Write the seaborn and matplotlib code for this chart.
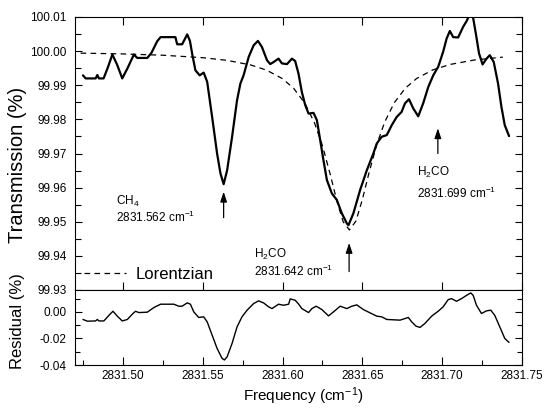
import matplotlib
matplotlib.use("Agg")
import matplotlib.pyplot as plt
from matplotlib.ticker import MultipleLocator, FormatStrFormatter
import pandas as pd
import seaborn as sns

# Measured transmission spectrum (cm^-1, %)
freq_t = [2831.4750, 2831.4767, 2831.4829, 2831.4840, 2831.4850, 2831.4879, 2831.4904,
          2831.4934, 2831.4964, 2831.4996, 2831.5029, 2831.5069, 2831.5090, 2831.5153,
          2831.5179, 2831.5215, 2831.5236, 2831.5329, 2831.5340, 2831.5371, 2831.5403,
          2831.5420, 2831.5434, 2831.5454, 2831.5481, 2831.5506, 2831.5528, 2831.5559,
          2831.5590, 2831.5611, 2831.5631, 2831.5653, 2831.5684, 2831.5715, 2831.5736,
          2831.5756, 2831.5788, 2831.5819, 2831.5846, 2831.5871, 2831.5903, 2831.5923,
          2831.5944, 2831.5975, 2831.5996, 2831.6028, 2831.6059, 2831.6079, 2831.6100,
          2831.6121, 2831.6142, 2831.6163, 2831.6194, 2831.6215, 2831.6236, 2831.6256,
          2831.6278, 2831.6309, 2831.6340, 2831.6371, 2831.6403, 2831.6413, 2831.6444,
          2831.6486, 2831.6528, 2831.6569, 2831.6590, 2831.6621, 2831.6653, 2831.6684,
          2831.6715, 2831.6746, 2831.6767, 2831.6792, 2831.6819, 2831.6850, 2831.6881,
          2831.6913, 2831.6944, 2831.6975, 2831.7006, 2831.7028, 2831.7048, 2831.7069,
          2831.7100, 2831.7131, 2831.7153, 2831.7173, 2831.7190, 2831.7211, 2831.7231,
          2831.7253, 2831.7278, 2831.7298, 2831.7323, 2831.7350, 2831.7371, 2831.7392,
          2831.7419]
trans = [99.9929, 99.9920, 99.9920, 99.9930, 99.9920, 99.9920, 99.9950,
         99.9990, 99.9960, 99.9920, 99.9950, 99.9990, 99.9980, 99.9980,
         99.9995, 100.0029, 100.0041, 100.0041, 100.0020, 100.0020, 100.0049,
         100.0030, 99.9992, 99.9944, 99.9929, 99.9937, 99.9910, 99.9807,
         99.9700, 99.9642, 99.9610, 99.9651, 99.9749, 99.9856, 99.9905,
         99.9929, 99.9983, 100.0017, 100.0030, 100.0012, 99.9973, 99.9962,
         99.9968, 99.9978, 99.9964, 99.9962, 99.9978, 99.9971, 99.9934,
         99.9880, 99.9842, 99.9817, 99.9819, 99.9798, 99.9739, 99.9681,
         99.9622, 99.9583, 99.9564, 99.9525, 99.9495, 99.9490, 99.9525,
         99.9593, 99.9651, 99.9700, 99.9729, 99.9749, 99.9754, 99.9783,
         99.9807, 99.9822, 99.9847, 99.9859, 99.9832, 99.9809, 99.9847,
         99.9895, 99.9929, 99.9954, 99.9998, 100.0037, 100.0059, 100.0041,
         100.0040, 100.0071, 100.0088, 100.0108, 100.0108, 100.0051, 99.9993,
         99.9961, 99.9978, 99.9988, 99.9968, 99.9905, 99.9837, 99.9783,
         99.9751]

# Lorentzian profile fitted to the 2831.642 cm^-1 line
freq_l = [2831.4735, 2831.5000, 2831.5250, 2831.5500, 2831.5650, 2831.5800, 2831.5900,
          2831.6000, 2831.6070, 2831.6140, 2831.6200, 2831.6250, 2831.6300, 2831.6340,
          2831.6380, 2831.6419, 2831.6460, 2831.6500, 2831.6540, 2831.6590, 2831.6640,
          2831.6700, 2831.6770, 2831.6840, 2831.6940, 2831.7050, 2831.7200, 2831.7380]
lorentz = [99.99941, 99.99918, 99.99880, 99.99808, 99.99731, 99.99596, 99.99443,
           99.99191, 99.98908, 99.98472, 99.97901, 99.97230, 99.96366, 99.95614,
           99.94997, 99.94760, 99.95021, 99.95650, 99.96403, 99.97260, 99.97924,
           99.98488, 99.98918, 99.99198, 99.99447, 99.99610, 99.99739, 99.99824]

# Fit residual (%)
freq_r = [2831.4750, 2831.4778, 2831.4829, 2831.4840, 2831.4850, 2831.4881, 2831.4913,
          2831.4938, 2831.4965, 2831.4996, 2831.5028, 2831.5059, 2831.5079, 2831.5100,
          2831.5153, 2831.5194, 2831.5236, 2831.5319, 2831.5350, 2831.5371, 2831.5403,
          2831.5423, 2831.5444, 2831.5475, 2831.5506, 2831.5528, 2831.5559, 2831.5590,
          2831.5621, 2831.5636, 2831.5653, 2831.5684, 2831.5715, 2831.5746, 2831.5778,
          2831.5819, 2831.5850, 2831.5881, 2831.5913, 2831.5934, 2831.5975, 2831.6006,
          2831.6038, 2831.6048, 2831.6079, 2831.6100, 2831.6121, 2831.6163, 2831.6184,
          2831.6211, 2831.6246, 2831.6288, 2831.6319, 2831.6361, 2831.6403, 2831.6434,
          2831.6465, 2831.6506, 2831.6548, 2831.6590, 2831.6621, 2831.6653, 2831.6736,
          2831.6767, 2831.6788, 2831.6809, 2831.6836, 2831.6861, 2831.6892, 2831.6934,
          2831.6975, 2831.7006, 2831.7038, 2831.7059, 2831.7090, 2831.7121, 2831.7153,
          2831.7179, 2831.7194, 2831.7215, 2831.7246, 2831.7278, 2831.7304, 2831.7329,
          2831.7361, 2831.7392, 2831.7419]
resid = [-0.0057, -0.0070, -0.0068, -0.0057, -0.0068, -0.0068, -0.0025,
         0.0005, -0.0032, -0.0068, -0.0057, -0.0017, 0.0005, -0.0005,
         -0.0002, 0.0033, 0.0058, 0.0058, 0.0043, 0.0043, 0.0068,
         0.0058, 0.0000, -0.0042, -0.0037, -0.0075, -0.0175, -0.0275,
         -0.0350, -0.0362, -0.0338, -0.0237, -0.0113, -0.0037, 0.0013,
         0.0063, 0.0083, 0.0068, 0.0038, 0.0025, 0.0058, 0.0050,
         0.0058, 0.0098, 0.0088, 0.0060, 0.0025, -0.0005, 0.0025,
         0.0043, 0.0018, -0.0030, 0.0000, 0.0043, 0.0025, 0.0043,
         0.0053, 0.0018, -0.0007, -0.0032, -0.0037, -0.0057, -0.0062,
         -0.0050, -0.0042, -0.0075, -0.0107, -0.0117, -0.0087, -0.0032,
         0.0005, 0.0038, 0.0093, 0.0100, 0.0080, 0.0100, 0.0125,
         0.0143, 0.0125, 0.0050, -0.0012, 0.0008, 0.0013, -0.0025,
         -0.0113, -0.0200, -0.0230]

# Line assignments: (label lines, position of text, arrow x, arrow tail, arrow tip)
line_labels = [
    ("CH$_4$", "2831.562 cm$^{-1}$", 2831.4959, 99.9549, 99.9498, 2831.5631, 99.9512, 99.9588),
    ("H$_2$CO", "2831.642 cm$^{-1}$", 2831.5824, 99.9393, 99.9342, 2831.6417, 99.9354, 99.9438),
    ("H$_2$CO", "2831.699 cm$^{-1}$", 2831.6840, 99.9634, 99.9571, 2831.6973, 99.9700, 99.9774),
]

sns.set_style("ticks")
plt.rcParams.update({
    "font.family": ["Liberation Sans", "DejaVu Sans"],
    "mathtext.fontset": "custom",
    "mathtext.rm": "Liberation Sans",
    "mathtext.it": "Liberation Sans:italic",
    "mathtext.bf": "Liberation Sans:bold",
    "axes.unicode_minus": False,
    "axes.edgecolor": "black",
    "axes.linewidth": 0.8,
    "xtick.color": "black",
    "ytick.color": "black",
    "text.color": "black",
    "axes.labelcolor": "black",
})

W, H = 545, 411
fig = plt.figure(figsize=(W / 100, H / 100), dpi=100)
L, R = 75, 522
ax1 = fig.add_axes([L / W, 1 - 290 / H, (R - L) / W, (290 - 17) / H])
ax2 = fig.add_axes([L / W, 1 - 365 / H, (R - L) / W, (365 - 290) / H], sharex=ax1)

df_t = pd.DataFrame({"freq": freq_t, "T": trans})
df_l = pd.DataFrame({"freq": freq_l, "T": lorentz})
df_r = pd.DataFrame({"freq": freq_r, "res": resid})

sns.lineplot(data=df_t, x="freq", y="T", ax=ax1, color="black", lw=1.6,
             sort=False, estimator=None)
sns.lineplot(data=df_l, x="freq", y="T", ax=ax1, color="black", lw=0.9,
             sort=False, estimator=None)
lor_line = ax1.lines[-1]
lor_line.set_dashes((4.5, 3.5))
sns.lineplot(data=df_r, x="freq", y="res", ax=ax2, color="black", lw=1.0,
             sort=False, estimator=None)

# Axis limits and ticks
ax1.set_xlim(2831.47, 2831.75)
ax1.set_ylim(99.93, 100.01)
ax2.set_ylim(-0.04, 0.0165)

ax2.xaxis.set_major_locator(MultipleLocator(0.05))
ax2.xaxis.set_minor_locator(MultipleLocator(0.025))
ax2.xaxis.set_major_formatter(FormatStrFormatter("%.2f"))
ax1.yaxis.set_major_locator(MultipleLocator(0.01))
ax1.yaxis.set_minor_locator(MultipleLocator(0.005))
ax1.yaxis.set_major_formatter(FormatStrFormatter("%.2f"))
ax2.yaxis.set_major_locator(MultipleLocator(0.02))
ax2.yaxis.set_minor_locator(MultipleLocator(0.01))
ax2.yaxis.set_major_formatter(FormatStrFormatter("%.2f"))

ax1.tick_params(axis="x", which="major", direction="in", top=True, bottom=True,
                length=6, width=0.8, labelbottom=False)
ax1.tick_params(axis="x", which="minor", length=0)
ax1.tick_params(axis="y", which="major", direction="in", left=True, right=True,
                length=5, width=0.8, labelsize=8.5, pad=6)
ax1.tick_params(axis="y", which="minor", direction="in", left=True, right=True,
                length=4, width=0.8)
ax2.tick_params(axis="x", which="major", direction="in", top=False, bottom=True,
                length=6, width=0.8, labelsize=8.5, pad=3.5)
ax2.tick_params(axis="x", which="minor", direction="in", top=False, bottom=True,
                length=3.5, width=0.8)
ax2.tick_params(axis="y", which="major", direction="in", left=True, right=True,
                length=5, width=0.8, labelsize=8.5, pad=6)
ax2.tick_params(axis="y", which="minor", direction="in", left=True, right=True,
                length=3.5, width=0.8)

for ax in (ax1, ax2):
    for sp in ax.spines.values():
        sp.set_visible(True)
        sp.set_linewidth(0.8)
        sp.set_color("black")

# Axis titles
ax1.set_xlabel("")
ax2.set_xlabel("Frequency (cm$^{-1}$)", fontsize=11)
ax2.xaxis.set_label_coords(303 / W, 1 - 401 / H, transform=fig.transFigure)
ax2.xaxis.label.set_va("baseline")
ax1.set_ylabel("Transmission (%)", fontsize=14.5)
ax1.yaxis.set_label_coords(18 / W, 1 - 165 / H, transform=fig.transFigure)
ax1.yaxis.label.set_va("center")
ax2.set_ylabel("Residual (%)", fontsize=12)
ax2.yaxis.set_label_coords(18 / W, 1 - 321 / H, transform=fig.transFigure)
ax2.yaxis.label.set_va("center")

# Line assignments with arrows
for name, pos, tx, ty1, ty2, axx, ay0, ay1 in line_labels:
    ax1.text(tx, ty1, name, fontsize=8.5, ha="left", va="baseline")
    ax1.text(tx, ty2, pos, fontsize=8.5, ha="left", va="baseline")
    ax1.annotate("", xy=(axx, ay1), xytext=(axx, ay0),
                 arrowprops=dict(arrowstyle="-|>,head_length=0.6,head_width=0.2",
                                 color="black", lw=0.9, shrinkA=0, shrinkB=0))

# Legend for the fitted profile
ax1.legend(handles=[lor_line], labels=["Lorentzian"], loc="center left",
           bbox_to_anchor=((84 - L) / (R - L), (290 - 274) / 273),
           frameon=False, fontsize=12, handlelength=2.5, handletextpad=0.6,
           borderpad=0, borderaxespad=0)

fig.savefig("out.png", dpi=100)
